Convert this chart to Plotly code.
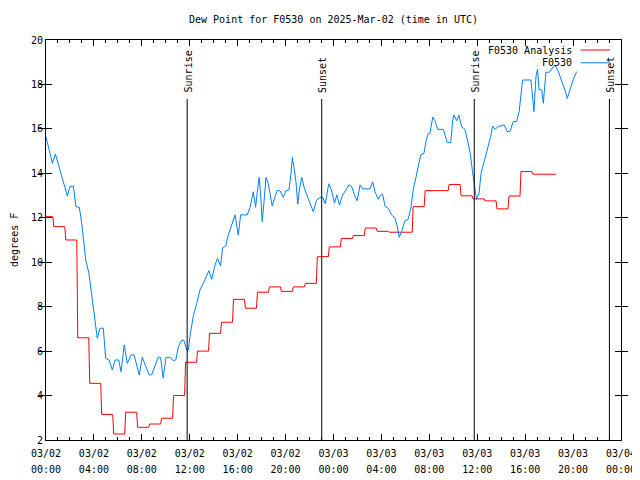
import plotly.graph_objects as go
from datetime import datetime, timedelta

# ---------------- data ----------------
title_text = "Dew Point for F0530 on 2025-Mar-02 (time in UTC)"
y_title = "degrees F"
analysis_name = "F0530 Analysis"
obs_name = "F0530"
start = datetime(2025, 3, 2, 0, 0)
end = datetime(2025, 3, 4, 0, 0)

# hourly analysis values (hour 0 .. 42)
analysis_values = [12.05, 11.6, 11.0, 6.6, 4.55, 3.15, 2.27, 3.25, 2.57, 2.72,
                   2.98, 4.0, 5.5, 6.0, 6.8, 7.3, 8.33, 7.93, 8.65, 8.89,
                   8.69, 8.89, 9.05, 10.25, 10.69, 11.07, 11.2, 11.54, 11.39, 11.35,
                   11.35, 12.5, 13.22, 13.22, 13.5, 12.99, 12.85, 12.76, 12.4, 12.98,
                   14.08, 13.96, 13.96]

# observation times (minutes after 2025-03-02 00:00 UTC) and values
obs_minutes = [0, 17, 32, 47, 62, 79, 92, 107, 120, 137,
               150, 167, 179, 187, 199, 215, 224, 234, 245, 257,
               270, 287, 299, 316, 332, 346, 364, 376, 392, 407,
               426, 441, 467, 482, 517, 529, 562, 574, 587, 601,
               621, 638, 650, 663, 680, 691, 705, 713, 721, 738,
               755, 771, 788, 801, 816, 830, 846, 859, 874, 885,
               900, 913, 930, 947, 963, 975, 1008, 1022, 1038, 1050,
               1058, 1068, 1077, 1083, 1092, 1102, 1113, 1125, 1133, 1147,
               1158, 1172, 1188, 1202, 1217, 1227, 1234, 1244, 1252, 1261,
               1269, 1281, 1294, 1314, 1326, 1339, 1354, 1372, 1386, 1399,
               1416, 1428, 1445, 1457, 1470, 1486, 1502, 1517, 1531, 1548,
               1559, 1573, 1586, 1623, 1636, 1648, 1664, 1673, 1686, 1698,
               1714, 1731, 1748, 1759, 1769, 1781, 1798, 1814, 1828, 1839,
               1853, 1865, 1877, 1893, 1903, 1915, 1923, 1937, 1948, 1962,
               1990, 2010, 2027, 2037, 2043, 2057, 2068, 2082, 2098, 2111,
               2125, 2136, 2146, 2156, 2169, 2179, 2199, 2215, 2227, 2237,
               2249, 2265, 2282, 2295, 2310, 2324, 2340, 2357, 2370, 2379,
               2387, 2429, 2437, 2444, 2454, 2462, 2469, 2483, 2491, 2504,
               2521, 2538, 2549, 2566, 2583, 2599, 2611, 2624, 2641, 2658]
obs_values = [15.65, 14.97, 14.45, 14.87, 14.38, 13.85, 13.48, 12.98, 13.4, 13.43,
              12.5, 12.47, 11.75, 11.0, 10.1, 9.5, 8.9, 8.0, 7.25, 6.58,
              7.03, 7.03, 5.68, 5.6, 5.15, 5.6, 5.6, 5.07, 6.28, 5.45,
              5.83, 5.83, 4.93, 5.72, 4.93, 4.93, 5.72, 5.72, 4.78, 5.72,
              5.72, 5.57, 5.6, 6.2, 6.5, 6.48, 6.05, 6.05, 6.65, 7.6,
              8.15, 8.75, 9.05, 9.3, 9.62, 9.23, 9.85, 10.18, 9.84, 10.65,
              10.73, 11.22, 11.68, 12.13, 11.22, 12.13, 12.13, 12.47, 13.17, 12.47,
              13.17, 13.82, 12.8, 11.82, 12.73, 13.82, 13.55, 12.8, 12.53, 12.95,
              13.22, 13.22, 12.92, 13.22, 13.25, 14.0, 14.72, 14.15, 13.62, 12.62,
              13.25, 13.82, 13.33, 12.85, 12.58, 12.27, 12.77, 12.92, 12.92, 12.63,
              13.53, 13.3, 12.66, 13.03, 12.58, 13.03, 13.25, 13.48, 13.4, 12.95,
              12.77, 13.48, 13.3, 13.3, 13.62, 13.17, 12.83, 12.98, 13.07, 12.53,
              12.43, 12.13, 11.98, 11.63, 11.12, 11.38, 11.87, 11.93, 12.47, 13.25,
              13.82, 14.38, 14.83, 14.9, 15.43, 15.8, 15.8, 16.52, 16.37, 15.98,
              15.98, 15.38, 15.38, 16.37, 16.62, 16.37, 16.62, 16.1, 15.98, 15.5,
              14.9, 14.1, 13.4, 12.83, 13.1, 14.0, 14.68, 15.2, 15.65, 16.13,
              15.98, 16.1, 16.13, 16.18, 15.88, 15.88, 16.33, 16.33, 16.78, 17.6,
              18.2, 18.2, 17.22, 16.78, 18.35, 18.68, 17.78, 17.75, 17.15, 18.55,
              18.55, 18.77, 18.88, 18.58, 18.17, 17.75, 17.37, 17.78, 18.23, 18.58]

sun_labels = ["Sunrise", "Sunset", "Sunrise", "Sunset"]
sun_times = ["2025-03-02 11:47", "2025-03-02 23:01", "2025-03-03 11:45", "2025-03-03 23:02"]

# ---------------- styling ----------------
FONT = "DejaVu Sans Mono"
RED = "#ff0000"
BLUE = "#0080ff"
TICKFONT = dict(family=FONT, size=10, color="black")
HOUR_MS = 3600 * 1000

# analysis drawn as hourly held values
ax_x, ax_y = [], []
for k, v in enumerate(analysis_values):
    s = max(start, start + timedelta(hours=k - 0.35))
    e = start + timedelta(hours=k + 0.57)
    ax_x += [s, e]
    ax_y += [v, v]

obs_x = [start + timedelta(minutes=m) for m in obs_minutes]

fig = go.Figure()
fig.add_trace(go.Scatter(x=ax_x, y=ax_y, mode="lines", name=analysis_name,
                         line=dict(color=RED, width=1), showlegend=False))
# the observation trace sits on the twin x axis (identical range) that carries the hour labels
fig.add_trace(go.Scatter(x=obs_x, y=obs_values, mode="lines", name=obs_name,
                         xaxis="x2", yaxis="y",
                         line=dict(color=BLUE, width=1), showlegend=False))

shapes = []
annotations = []
for lab, t in zip(sun_labels, sun_times):
    shapes.append(dict(type="line", xref="x", yref="paper", x0=t, x1=t, y0=0, y1=0.8525,
                       line=dict(color="black", width=1)))
    annotations.append(dict(text=lab, x=t, xref="x", y=0.863, yref="paper",
                            xanchor="center", yanchor="bottom", textangle=-90,
                            showarrow=False, xshift=1.5,
                            font=dict(family=FONT, size=10, color="black")))

# legend (gnuplot style: text then line sample)
for i, (name, col) in enumerate([(analysis_name, RED), (obs_name, BLUE)]):
    yp = 0.975 - i * 0.032
    annotations.append(dict(text=name, x=0.918, xref="paper", y=yp, yref="paper",
                            xanchor="right", yanchor="middle", showarrow=False,
                            font=dict(family=FONT, size=10, color="black")))
    shapes.append(dict(type="line", xref="paper", yref="paper", x0=0.930, x1=0.981,
                       y0=yp, y1=yp, line=dict(color=col, width=1)))

annotations.append(dict(text=y_title, x=-0.0557, xref="paper", y=0.5, yref="paper",
                        xanchor="center", yanchor="middle", textangle=-90,
                        showarrow=False, font=dict(family=FONT, size=10, color="black")))

# the page places the figure 8px from the top-left corner; margins compensate
fig.update_layout(
    width=640, height=480,
    margin=dict(l=38, r=27, t=32, b=48, autoexpand=False),
    paper_bgcolor="white", plot_bgcolor="white",
    font=dict(family=FONT, size=10, color="black"),
    title=dict(text=title_text, x=0.5, xref="paper", y=1 - 11 / 480, yref="container",
               xanchor="center", yanchor="middle",
               font=dict(family=FONT, size=10, color="black")),
    shapes=shapes, annotations=annotations, showlegend=False,
    xaxis=dict(
        type="date", range=[start, end], dtick=4 * HOUR_MS, tick0=start,
        tickformat="%m/%d", ticks="inside", ticklen=6, tickcolor="black",
        showline=True, linecolor="black", linewidth=1, mirror="allticks",
        showgrid=False, zeroline=False, automargin=False, ticklabelstandoff=4,
        minor=dict(dtick=HOUR_MS, ticks="inside", ticklen=3, tickcolor="black",
                   showgrid=False),
        tickfont=TICKFONT,
    ),
    # second row of time labels (hours) under the date row
    xaxis2=dict(
        type="date", range=[start, end], overlaying="x", anchor="y", side="bottom",
        dtick=4 * HOUR_MS, tick0=start, tickformat="%H:%M",
        ticks="", showline=False, showgrid=False, zeroline=False,
        automargin=False, ticklabelstandoff=22, tickfont=TICKFONT,
    ),
    yaxis=dict(
        range=[2, 20], dtick=2, tick0=2, ticks="inside", ticklen=6, tickcolor="black",
        showline=True, linecolor="black", linewidth=1, mirror="allticks",
        showgrid=False, zeroline=False, automargin=False, tickfont=TICKFONT,
    ),
)

fig.write_html("out.html")
